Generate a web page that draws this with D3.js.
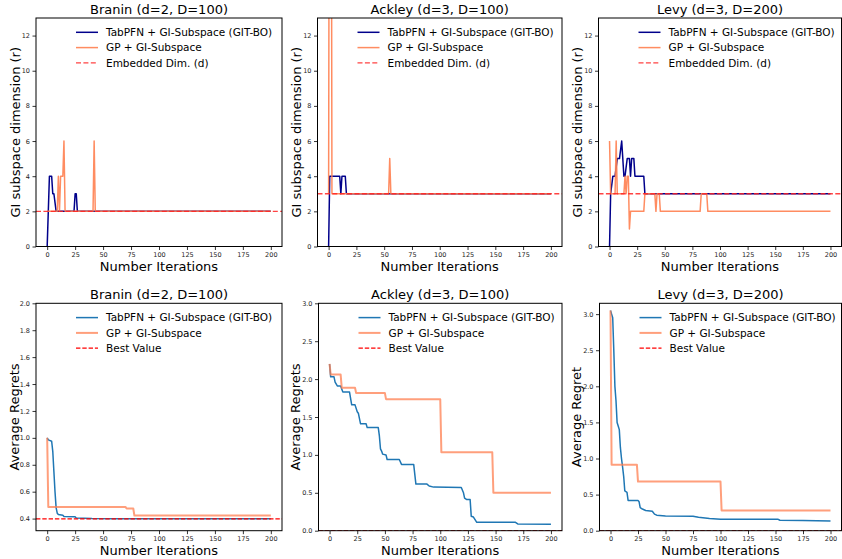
<!DOCTYPE html>
<html>
<head>
<meta charset="utf-8">
<script src="https://cdn.jsdelivr.net/npm/d3@7"></script>
<style>
  body { margin: 0; background: #fff; }
  svg { display: block; font-family: "DejaVu Sans", sans-serif; }
</style>
</head>
<body>
<svg id="chart" width="842" height="559"></svg>
<script>
// ---- data ----
const iterTicks = [0, 25, 50, 75, 100, 125, 150, 175, 200];
const dimTicks = [0, 2, 4, 6, 8, 10, 12];
const braninRegretTicks = [0.4, 0.6, 0.8, 1.0, 1.2, 1.4, 1.6, 1.8, 2.0];
const regretTicks = [0.0, 0.5, 1.0, 1.5, 2.0, 2.5, 3.0];

const titles = ["Branin (d=2, D=100)", "Ackley (d=3, D=100)", "Levy (d=3, D=200)"];
const dimLegend = ["TabPFN + GI-Subspace (GIT-BO)", "GP + GI-Subspace", "Embedded Dim. (d)"];
const regretLegend = ["TabPFN + GI-Subspace (GIT-BO)", "GP + GI-Subspace", "Best Value"];
const embeddedDims = [2, 3, 3];
const bestValues = [0.398, 0, 0];

// [iteration, subspace dimension]
const braninDimTab = [[0,0],[2,4],[4,4],[5,3],[6,3],[8,2],[24,2],[25,3],[26,3],[27,2],[200,2]];
const braninDimGp = [[0,2],[9,2],[10,4],[11,2],[12,4],[14,4],[15,6],[16,2],[41,2],[42,6],[43,2],[200,2]];
const ackleyDimTab = [[0,0],[1,4],[10,4],[11,3],[12,4],[15,4],[16,3],[200,3]];
const ackleyDimGp = [[0,3],[1,40],[2,40],[3,3],[54,3],[55,5],[56,3],[200,3]];
const levyDimTab = [[0,0],[1,3],[3,4],[5,4],[7,5],[9,5],[11,6],[13,4],[14,4],[16,5],[18,5],[19,4],[20,5],[22,5],[23,4],[31,4],[32,3],[200,3]];
const levyDimGp = [[0,6],[1,3],[5,3],[6,6],[7,3],[13,3],[14,4],[15,3],[16,4],[17,4],[18,1],[19,2],[31,2],[32,3],[41,3],[42,2],[43,3],[45,3],[46,2],[82,2],[83,3],[88,3],[89,2],[200,2]];

// [iteration, average regret]
const braninRegretTab = [[0,1.0],[1,0.985],[4,0.975],[5,0.9],[6,0.75],[7,0.6],[8,0.48],[9,0.44],[10,0.43],[14,0.425],[15,0.415],[25,0.413],[26,0.405],[40,0.401],[60,0.399],[200,0.398]];
const braninRegretGp = [[0,1.0],[1,0.487],[70,0.487],[71,0.475],[77,0.475],[78,0.423],[200,0.423]];
const ackleyRegretTab = [[0,2.2],[1,2.03],[4,2.03],[5,1.96],[7,1.91],[10,1.91],[12,1.83],[18,1.83],[20,1.66],[23,1.66],[25,1.57],[26,1.55],[28,1.41],[33,1.41],[34,1.36],[44,1.36],[45,1.25],[46,1.08],[47,1.05],[48,1.01],[51,1.0],[52,0.94],[63,0.94],[65,0.875],[76,0.875],[78,0.615],[88,0.615],[90,0.59],[94,0.575],[119,0.57],[121,0.5],[122,0.43],[124,0.41],[127,0.41],[128,0.19],[130,0.18],[133,0.11],[168,0.11],[170,0.09],[200,0.085]];
const ackleyRegretGp = [[0,2.2],[1,2.06],[10,2.06],[11,1.885],[23,1.885],[24,1.815],[50,1.815],[51,1.735],[100,1.735],[101,1.035],[147,1.035],[148,0.5],[200,0.5]];
const levyRegretTab = [[0,3.05],[1,3.0],[2,2.95],[3,2.5],[4,2.0],[5,1.8],[6,1.5],[7,1.45],[8,1.4],[9,1.15],[10,1.0],[11,0.88],[12,0.75],[13,0.55],[15,0.53],[16,0.42],[25,0.42],[26,0.4],[27,0.32],[29,0.3],[32,0.28],[38,0.27],[40,0.23],[42,0.215],[50,0.205],[75,0.2],[80,0.185],[90,0.17],[100,0.16],[152,0.16],[154,0.145],[175,0.14],[200,0.135]];
const levyRegretGp = [[0,3.05],[1,0.915],[24,0.915],[25,0.68],[100,0.68],[101,0.28],[200,0.28]];

const svg = d3.select("#chart");

const NAVY = "#00008b";
const CORAL = "#ff7f50";
const TABBLUE = "#1f77b4";

function drawPanel(cfg, idx) {
    const x = d3.scaleLinear().domain([-10, 210]).range([cfg.left, cfg.left + cfg.width]);
    const y = d3.scaleLinear().domain(cfg.yDomain).range([cfg.top + cfg.height, cfg.top]);

    const clipId = "clip" + idx;
    svg.append("clipPath").attr("id", clipId)
        .append("rect")
        .attr("x", cfg.left).attr("y", cfg.top)
        .attr("width", cfg.width).attr("height", cfg.height);

    const g = svg.append("g");
    const plot = g.append("g").attr("clip-path", "url(#" + clipId + ")");

    const line = d3.line().x(d => x(d[0])).y(d => y(d[1]));

    cfg.series.forEach(s => {
        plot.append("path")
            .attr("d", line(s.data))
            .attr("fill", "none")
            .attr("stroke", s.color)
            .attr("stroke-width", s.width)
            .attr("stroke-opacity", s.opacity)
            .attr("stroke-linejoin", "round");
    });

    // reference line (axhline)
    plot.append("line")
        .attr("x1", cfg.left).attr("x2", cfg.left + cfg.width)
        .attr("y1", y(cfg.ref)).attr("y2", y(cfg.ref))
        .attr("stroke", cfg.refStyle.color)
        .attr("stroke-opacity", cfg.refStyle.opacity)
        .attr("stroke-width", cfg.refStyle.width)
        .attr("stroke-dasharray", cfg.refStyle.dash);

    // axes
    const xAxis = d3.axisBottom(x).tickValues(iterTicks).tickSize(3.5).tickPadding(2);
    const yAxis = d3.axisLeft(y).tickValues(cfg.yTicks).tickFormat(cfg.yFmt).tickSize(3.5).tickPadding(2.5);

    const gx = g.append("g").attr("transform", `translate(0,${cfg.top + cfg.height})`).call(xAxis);
    const gy = g.append("g").attr("transform", `translate(${cfg.left},0)`).call(yAxis);
    [gx, gy].forEach(a => {
        a.select(".domain").remove();
        a.selectAll(".tick line").attr("stroke", "#000").attr("stroke-width", 0.8);
        a.selectAll(".tick text")
            .attr("fill", "#222")
            .style("font-size", "6.5px")
            .style("font-family", "DejaVu Sans, sans-serif");
    });

    // frame
    g.append("rect")
        .attr("x", cfg.left).attr("y", cfg.top)
        .attr("width", cfg.width).attr("height", cfg.height)
        .attr("fill", "none").attr("stroke", "#000").attr("stroke-width", 1);

    // title & labels
    g.append("text")
        .attr("x", cfg.left + cfg.width / 2).attr("y", cfg.top - 4.5)
        .attr("text-anchor", "middle")
        .style("font-size", "13px")
        .text(cfg.title);

    g.append("text")
        .attr("x", cfg.left + cfg.width / 2).attr("y", cfg.top + cfg.height + 24.5)
        .attr("text-anchor", "middle")
        .style("font-size", "13px")
        .text("Number Iterations");

    g.append("text")
        .attr("transform", `translate(${cfg.labelX},${cfg.top + cfg.height / 2}) rotate(-90)`)
        .attr("text-anchor", "middle")
        .attr("dy", "0.35em")
        .style("font-size", "13px")
        .text(cfg.ylabel);

    // legend
    const lx = cfg.left + 40;
    const ly = cfg.top + 14.3;
    const items = [
        {label: cfg.legend[0], color: cfg.series[0].color, width: cfg.series[0].width, opacity: cfg.series[0].opacity, dash: null},
        {label: cfg.legend[1], color: cfg.series[1].color, width: cfg.series[1].width, opacity: cfg.series[1].opacity, dash: null},
        {label: cfg.legend[2], color: cfg.refStyle.color, width: cfg.refStyle.width, opacity: cfg.refStyle.opacity, dash: cfg.refStyle.dash}
    ];
    items.forEach((it, i) => {
        const yy = ly + i * 15.3;
        g.append("line")
            .attr("x1", lx).attr("x2", lx + 22)
            .attr("y1", yy).attr("y2", yy)
            .attr("stroke", it.color)
            .attr("stroke-width", it.width)
            .attr("stroke-opacity", it.opacity)
            .attr("stroke-dasharray", it.dash);
        g.append("text")
            .attr("x", lx + 30).attr("y", yy)
            .attr("dy", "0.35em")
            .style("font-size", "10.5px")
            .text(it.label);
    });
}

const lefts = [36, 317.5, 598.5];
const widths = [246, 244.5, 243];
const dimData = [[braninDimTab, braninDimGp], [ackleyDimTab, ackleyDimGp], [levyDimTab, levyDimGp]];
const regretData = [[braninRegretTab, braninRegretGp], [ackleyRegretTab, ackleyRegretGp], [levyRegretTab, levyRegretGp]];
const regretDomains = [[0.31, 2.0], [0, 3.0], [0, 3.15]];
const regretYTicks = [braninRegretTicks, regretTicks, regretTicks];
const regretYLabels = ["Average Regrets", "Average Regrets", "Average Regret"];

for (let i = 0; i < 3; i++) {
    drawPanel({
        left: lefts[i], top: 18, width: widths[i], height: 228.5,
        yDomain: [0, 13], yTicks: dimTicks, yFmt: d3.format("d"),
        title: titles[i], ylabel: "GI subspace dimension (r)", labelX: lefts[i] - 21,
        series: [
            {data: dimData[i][0], color: NAVY, width: 1.5, opacity: 1},
            {data: dimData[i][1], color: CORAL, width: 1.5, opacity: 0.9}
        ],
        ref: embeddedDims[i],
        refStyle: {color: "#ff2222", width: 1.4, opacity: 0.85, dash: "5,2.4"},
        legend: dimLegend
    }, i);

    drawPanel({
        left: lefts[i] + (i === 0 ? 0 : 1), top: 303.3, width: widths[i] - (i === 0 ? 0 : 1), height: 227.4,
        yDomain: regretDomains[i], yTicks: regretYTicks[i], yFmt: d3.format(".1f"),
        title: titles[i], ylabel: regretYLabels[i], labelX: lefts[i] - 22,
        series: [
            {data: regretData[i][0], color: TABBLUE, width: 1.5, opacity: 1},
            {data: regretData[i][1], color: CORAL, width: 2, opacity: 0.75}
        ],
        ref: bestValues[i],
        refStyle: {color: "#ff0000", width: 1.2, opacity: 1, dash: "4.4,1.9"},
        legend: regretLegend
    }, i + 3);
}
</script>
</body>
</html>
